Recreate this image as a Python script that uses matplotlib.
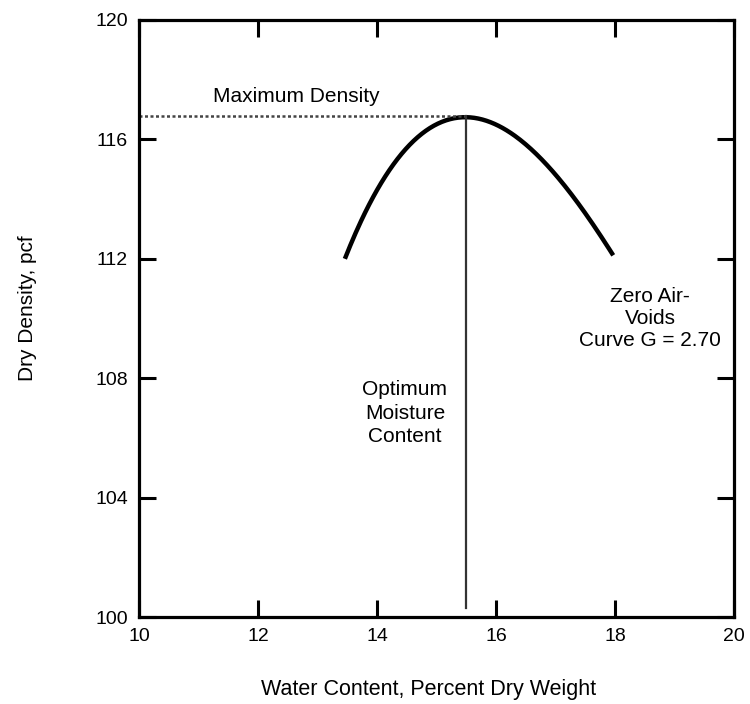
import matplotlib
matplotlib.use('Agg')
import numpy as np
import matplotlib.pyplot as plt

plt.rcParams['font.family'] = ['Liberation Sans', 'DejaVu Sans']

# compaction curve
wc = [13.46, 14.10, 14.67, 15.51, 16.35, 16.91, 17.46, 17.97]
dd = [111.96, 114.74, 115.98, 116.78, 115.98, 115.04, 113.74, 112.06]
w_opt = 15.5
d_max = 116.8

xticks = [10, 12, 14, 16, 18, 20]
yticks = [100, 104, 108, 112, 116, 120]

fig = plt.figure(figsize=(7.5, 7.04), dpi=100)
ax = fig.add_axes([139/750, 1-617/704, 595/750, 597/704])

# smooth the read points with a low order fit
cf = np.polyfit(wc, dd, 3)
xs = np.linspace(wc[0], wc[-1], 200)
ax.plot(xs, np.polyval(cf, xs), color='black', lw=3.2, solid_capstyle='butt')

ax.plot([10, w_opt], [d_max, d_max], color='#444444', lw=1.8, ls=(0, (1.2, 1.0)))
ax.plot([w_opt, w_opt], [100.3, d_max], color='#333333', lw=1.6)

ax.text(11.25, 117.45, 'Maximum Density', fontsize=15, ha='left', va='center')
ax.text(14.47, 106.83, 'Optimum\nMoisture\nContent', fontsize=15, ha='center', va='center', linespacing=1.3)
ax.text(18.59, 110.0, 'Zero Air-\nVoids\nCurve G = 2.70', fontsize=15, ha='center', va='center', linespacing=1.2)

ax.set_xlim(10, 20)
ax.set_ylim(100, 120)
ax.set_xticks(xticks)
ax.set_yticks(yticks)
ax.tick_params(direction='in', length=12, width=2.2, top=True, right=True,
               labelsize=14, pad=8)
for s in ax.spines.values():
    s.set_linewidth(2.3)

ax.set_xlabel('Water Content, Percent Dry Weight', fontsize=15.5)
ax.set_ylabel('Dry Density, pcf', fontsize=15)
ax.xaxis.set_label_coords(0.486, -0.104)
ax.yaxis.set_label_coords(-0.171, 0.518)

fig.savefig('out.png', dpi=100)
